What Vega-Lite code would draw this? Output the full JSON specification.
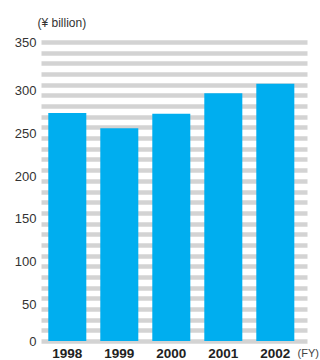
{
  "$schema": "https://vega.github.io/schema/vega-lite/v6.json",
  "autosize": {"type": "none"},
  "width": 266,
  "height": 299,
  "padding": {"left": 41, "top": 42, "right": 13, "bottom": 19},
  "background": "white",
  "data": {
    "values": [
      {"year": "1998", "value": 267},
      {"year": "1999", "value": 249},
      {"year": "2000", "value": 266},
      {"year": "2001", "value": 290},
      {"year": "2002", "value": 301}
    ]
  },
  "config": {
    "view": {"stroke": null},
    "font": "Liberation Sans"
  },
  "mark": {"type": "bar", "color": "#00aeef"},
  "encoding": {
    "x": {
      "field": "year",
      "type": "ordinal",
      "scale": {"paddingInner": 0.269, "paddingOuter": 0.192, "align": 0.365},
      "axis": {
        "title": "(FY)",
        "titleFont": "Liberation Sans",
        "titleFontWeight": "normal",
        "titleFontSize": 11,
        "titleColor": "#444",
        "titleAlign": "left",
        "titleBaseline": "middle",
        "titleX": 256,
        "titleY": 12,
        "labelAngle": 0,
        "labelFontWeight": "bold",
        "labelFontSize": 13.5,
        "labelColor": "#222",
        "labelPadding": 5,
        "ticks": false,
        "tickSize": 0,
        "domain": false,
        "grid": false
      }
    },
    "y": {
      "field": "value",
      "type": "quantitative",
      "scale": {"domain": [0, 350], "nice": false, "zero": true},
      "axis": {
        "title": "(¥ billion)",
        "titleAngle": 0,
        "titleFontWeight": "normal",
        "titleFontSize": 12,
        "titleColor": "#333",
        "titleAlign": "left",
        "titleBaseline": "middle",
        "titleX": -4,
        "titleY": -20,
        "values": [0, 12.5, 25, 37.5, 50, 62.5, 75, 87.5, 100, 112.5, 125, 137.5, 150, 162.5, 175, 187.5, 200, 212.5, 225, 237.5, 250, 262.5, 275, 287.5, 300, 312.5, 325, 337.5, 350],
        "labelExpr": "datum.value % 50 == 0 ? datum.label : ''",
        "labelOffset": {"condition": {"test": "datum.value % 350 == 0", "value": 0}, "value": 6},
        "labelFontSize": 13,
        "labelColor": "#333",
        "labelPadding": 5,
        "ticks": false,
        "tickSize": 0,
        "domain": false,
        "grid": true,
        "gridColor": "#d3d3d3",
        "gridWidth": 4.3
      }
    }
  }
}
